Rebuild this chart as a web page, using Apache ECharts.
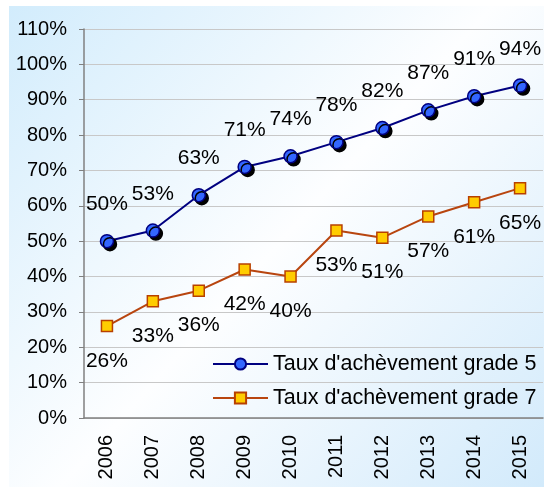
<!DOCTYPE html>
<html>
<head>
<meta charset="utf-8">
<script src="https://cdn.jsdelivr.net/npm/echarts@6/dist/echarts.min.js"></script>
<style>
  html, body { margin: 0; padding: 0; background: #fff; }
  #chart { width: 544px; height: 487px; }
</style>
</head>
<body>
<div id="chart"></div>
<script>
// data
const years = ['2006', '2007', '2008', '2009', '2010', '2011', '2012', '2013', '2014', '2015']
const grade5 = [50, 53, 63, 71, 74, 78, 82, 87, 91, 94]
const grade7 = [26, 33, 36, 42, 40, 53, 51, 57, 61, 65]
const name5 = "Taux d'achèvement grade 5"
const name7 = "Taux d'achèvement grade 7"

const font = 'Liberation Sans, Arial, sans-serif'

const chart = echarts.init(document.getElementById('chart'))

chart.setOption({
  animation: false,
  textStyle: { fontFamily: font },
  graphic: [
    {
      type: 'rect',
      z: -10,
      silent: true,
      shape: { x: 9, y: 6, width: 535, height: 481 },
      style: {
        fill: new echarts.graphic.LinearGradient(0, 0, 1, 1, [
          { offset: 0, color: '#d2ecfc' },
          { offset: 0.5, color: '#fdfeff' },
          { offset: 1, color: '#d2eafb' }
        ])
      }
    }
  ],
  grid: { left: 84, right: 1, top: 29, bottom: 69 },
  legend: {
    orient: 'vertical',
    left: 212,
    top: 353,
    padding: 0,
    itemWidth: 55,
    itemHeight: 14,
    itemGap: 12,
    textStyle: { fontSize: 21.5, lineHeight: 21, color: '#000', fontFamily: font },
    data: [
      { name: name5, itemStyle: { shadowColor: 'rgba(0,0,0,0)', shadowOffsetX: 0, shadowOffsetY: 0 } },
      { name: name7 }
    ]
  },
  xAxis: {
    type: 'category',
    data: years,
    axisLine: { lineStyle: { color: '#808080', width: 1.5 } },
    axisTick: { length: 5, lineStyle: { color: '#808080' } },
    axisLabel: { rotate: 90, margin: 17, fontSize: 20, color: '#000' }
  },
  yAxis: {
    type: 'value',
    min: 0,
    max: 110,
    interval: 10,
    axisLine: { show: true, lineStyle: { color: '#808080', width: 1.5 } },
    axisTick: { show: true, length: 5, lineStyle: { color: '#808080' } },
    axisLabel: { formatter: '{value}%', margin: 17, fontSize: 20, color: '#000' },
    splitLine: { lineStyle: { color: '#c8c8c8', width: 1 } }
  },
  series: [
    {
      name: name5,
      type: 'line',
      data: grade5,
      symbol: 'circle',
      symbolSize: 13,
      lineStyle: { color: '#000080', width: 2 },
      itemStyle: {
        color: '#3366ff',
        borderColor: '#000080',
        borderWidth: 1.5,
        shadowColor: '#000',
        shadowOffsetX: 3,
        shadowOffsetY: 3,
        shadowBlur: 0
      },
      label: {
        show: true,
        position: 'top',
        distance: 19,
        formatter: '{c}%',
        fontSize: 21,
        lineHeight: 21,
        color: '#000'
      }
    },
    {
      name: name7,
      type: 'line',
      data: grade7,
      symbol: 'rect',
      symbolSize: 11,
      lineStyle: { color: '#b8450f', width: 2 },
      itemStyle: {
        color: '#ffcc00',
        borderColor: '#b84000',
        borderWidth: 1.5
      },
      label: {
        show: true,
        position: 'bottom',
        distance: 18,
        formatter: '{c}%',
        fontSize: 21,
        lineHeight: 21,
        color: '#000'
      }
    }
  ]
})
</script>
</body>
</html>
